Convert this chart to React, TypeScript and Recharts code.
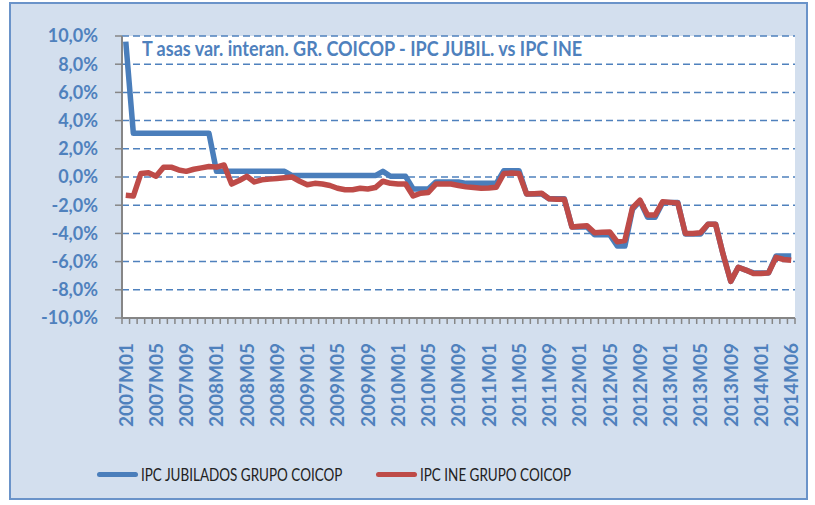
import { LineChart, Line, XAxis, YAxis, CartesianGrid, Legend } from 'recharts';

const months = [
  '2007M01', '2007M02', '2007M03', '2007M04', '2007M05', '2007M06', '2007M07', '2007M08', '2007M09', '2007M10', '2007M11', '2007M12',
  '2008M01', '2008M02', '2008M03', '2008M04', '2008M05', '2008M06', '2008M07', '2008M08', '2008M09', '2008M10', '2008M11', '2008M12',
  '2009M01', '2009M02', '2009M03', '2009M04', '2009M05', '2009M06', '2009M07', '2009M08', '2009M09', '2009M10', '2009M11', '2009M12',
  '2010M01', '2010M02', '2010M03', '2010M04', '2010M05', '2010M06', '2010M07', '2010M08', '2010M09', '2010M10', '2010M11', '2010M12',
  '2011M01', '2011M02', '2011M03', '2011M04', '2011M05', '2011M06', '2011M07', '2011M08', '2011M09', '2011M10', '2011M11', '2011M12',
  '2012M01', '2012M02', '2012M03', '2012M04', '2012M05', '2012M06', '2012M07', '2012M08', '2012M09', '2012M10', '2012M11', '2012M12',
  '2013M01', '2013M02', '2013M03', '2013M04', '2013M05', '2013M06', '2013M07', '2013M08', '2013M09', '2013M10', '2013M11', '2013M12',
  '2014M01', '2014M02', '2014M04', '2014M05', '2014M06',
];

// IPC jubilados, grupo COICOP (%)
const ipcJubilados = [
  9.6, 3.1, 3.1, 3.1, 3.1, 3.1, 3.1, 3.1, 3.1, 3.1, 3.1, 3.1,
  0.4, 0.4, 0.4, 0.4, 0.4, 0.4, 0.4, 0.4, 0.4, 0.4, 0.1, 0.1,
  0.1, 0.1, 0.1, 0.1, 0.1, 0.1, 0.1, 0.1, 0.1, 0.1, 0.4, 0.05,
  0.05, 0.05, -0.85, -0.85, -0.85, -0.35, -0.35, -0.35, -0.35, -0.45, -0.45, -0.45,
  -0.45, -0.45, 0.45, 0.45, 0.45, -1.2, -1.2, -1.2, -1.55, -1.55, -1.55, -3.55,
  -3.55, -3.55, -4.1, -4.1, -4.1, -4.9, -4.9, -2.3, -1.7, -2.85, -2.85, -1.8,
  -1.8, -1.8, -4.05, -4.05, -4.05, -3.35, -3.35, -5.5, -7.4, -6.4, -6.6, -6.8,
  -6.8, -6.8, -5.6, -5.6, -5.6,
];

// IPC INE, grupo COICOP (%)
const ipcIne = [
  -1.3, -1.35, 0.25, 0.3, 0.05, 0.7, 0.7, 0.5, 0.4, 0.55, 0.65, 0.75,
  0.7, 0.85, -0.5, -0.25, 0.05, -0.35, -0.2, -0.15, -0.1, -0.05, 0.0, -0.3,
  -0.55, -0.45, -0.5, -0.6, -0.8, -0.9, -0.9, -0.8, -0.85, -0.75, -0.3, -0.45,
  -0.5, -0.5, -1.35, -1.15, -1.1, -0.5, -0.5, -0.5, -0.6, -0.7, -0.75, -0.8,
  -0.78, -0.73, 0.25, 0.28, 0.25, -1.2, -1.18, -1.15, -1.55, -1.58, -1.58, -3.55,
  -3.5, -3.45, -3.95, -3.92, -3.9, -4.6, -4.5, -2.2, -1.65, -2.7, -2.7, -1.75,
  -1.8, -1.85, -4.0, -4.0, -3.95, -3.35, -3.35, -5.5, -7.4, -6.4, -6.6, -6.85,
  -6.85, -6.8, -5.7, -5.85, -5.9,
];

const yTicks = [-10, -8, -6, -4, -2, 0, 2, 4, 6, 8, 10];

const BLUE = '#4A7EBB';
const RED = '#BE4B48';
const LABEL = '#4F81BD';
const AXIS = '#868686';
const FONT = 'Lato, "Open Sans", sans-serif';

const data = months.map((m, i) => ({ m, jub: ipcJubilados[i], ine: ipcIne[i] }));

const HALF_SLOT = 3.78;

function MonthTick(props: any) {
  const { x, y, payload } = props;
  const i = months.indexOf(payload.value);
  return (
    <g>
      <line x1={x - HALF_SLOT} x2={x - HALF_SLOT} y1={y} y2={y + 6} stroke={AXIS} strokeWidth={1.5} />
      {i === months.length - 1 && (
        <line x1={x + HALF_SLOT} x2={x + HALF_SLOT} y1={y} y2={y + 6} stroke={AXIS} strokeWidth={1.5} />
      )}
      {i % 4 === 0 && (
        <text
          x={x}
          y={y + 25}
          dy="0.36em"
          transform={`rotate(-90, ${x}, ${y + 25})`}
          textAnchor="end"
          fill={LABEL}
          fontFamily={FONT}
          fontWeight={700}
          fontSize={19}
        >
          {payload.value}
        </text>
      )}
    </g>
  );
}

function LegendBox() {
  const item = (color: string, label: string, width: number) => (
    <div style={{ display: 'flex', alignItems: 'center', width, flexShrink: 0 }}>
      <div style={{ width: 41, height: 5, flexShrink: 0, borderRadius: 3, background: color, marginRight: 3 }} />
      <span
        style={{
          display: 'inline-block',
          fontFamily: FONT,
          fontSize: 17.5,
          color: '#222',
          whiteSpace: 'nowrap',
          transform: 'scaleX(0.77)',
          transformOrigin: 'left center',
        }}
      >
        {label}
      </span>
    </div>
  );
  return (
    <div style={{ display: 'flex', paddingLeft: 97 }}>
      {item(BLUE, 'IPC JUBILADOS GRUPO COICOP', 279)}
      {item(RED, 'IPC INE GRUPO COICOP', 220)}
    </div>
  );
}

export default function App() {
  return (
    <div style={{ position: 'absolute', left: 0, top: 0, width: 815, height: 505, background: '#fff' }}>
      <div
        style={{
          position: 'absolute',
          left: 9,
          top: 2,
          width: 799,
          height: 498,
          boxSizing: 'border-box',
          background: '#D3DFEE',
          border: '2px solid #6A93C9',
        }}
      />
      <div style={{ position: 'absolute', left: 0, top: 0 }}>
        <LineChart width={815} height={505} data={data} margin={{ top: 36, right: 20, left: 22, bottom: 77 }}>
          <CartesianGrid
            vertical={false}
            stroke={LABEL}
            strokeWidth={1.5}
            strokeDasharray="7 4"
            fill="#fff"
            fillOpacity={1}
          />
          <XAxis
            dataKey="m"
            interval={0}
            height={110}
            padding={{ left: HALF_SLOT, right: HALF_SLOT }}
            tick={<MonthTick />}
            tickLine={false}
            tickSize={0}
            tickMargin={0}
            axisLine={{ stroke: AXIS, strokeWidth: 2 }}
          />
          <YAxis
            width={100}
            domain={[-10, 10]}
            ticks={yTicks}
            interval={0}
            tickFormatter={(v: number) => `${v.toFixed(1).replace('.', ',')}%`}
            tick={{ fill: LABEL, fontFamily: FONT, fontWeight: 700, fontSize: 18 }}
            tickSize={7}
            tickMargin={17}
            tickLine={{ stroke: AXIS, strokeWidth: 1.5 }}
            axisLine={{ stroke: AXIS, strokeWidth: 2 }}
          />
          <Line
            dataKey="jub"
            name="IPC JUBILADOS GRUPO COICOP"
            type="linear"
            stroke={BLUE}
            strokeWidth={5.5}
            strokeLinejoin="round"
            dot={false}
            activeDot={false}
            isAnimationActive={false}
          />
          <Line
            dataKey="ine"
            name="IPC INE GRUPO COICOP"
            type="linear"
            stroke={RED}
            strokeWidth={5.5}
            strokeLinejoin="round"
            dot={false}
            activeDot={false}
            isAnimationActive={false}
          />
          <Legend
            layout="horizontal"
            verticalAlign="middle"
            align="center"
            content={<LegendBox />}
            wrapperStyle={{ top: 464, left: 0, width: 815 }}
          />
        </LineChart>
      </div>
      <div
        style={{
          position: 'absolute',
          left: 142,
          top: 36,
          fontFamily: FONT,
          fontWeight: 700,
          fontSize: 20,
          color: LABEL,
          whiteSpace: 'nowrap',
          transform: 'scaleX(0.9)',
          transformOrigin: 'left center',
        }}
      >
        T asas var. interan. GR. COICOP - IPC JUBIL. vs IPC INE
      </div>
    </div>
  );
}
